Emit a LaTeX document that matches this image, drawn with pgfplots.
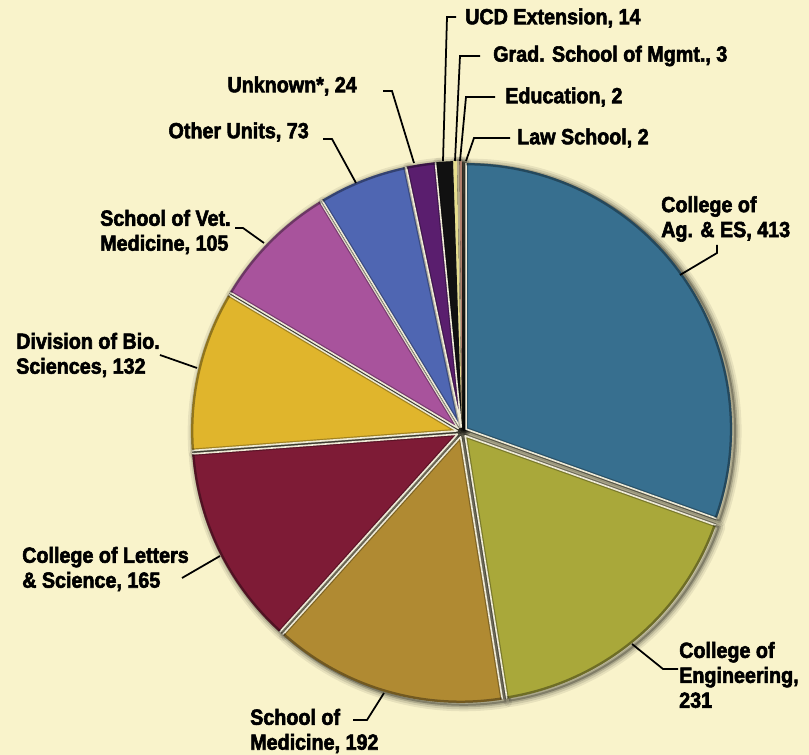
\documentclass[border=0pt]{standalone}
\usepackage{pgfplots}
\pgfplotsset{compat=1.18}
\usepackage{pgfplotstable}
\usepackage{fontspec}
\newfontfamily\lab[FakeStretch=0.9,FakeBold=2.6]{Liberation Sans Bold}
\definecolor{bg}{HTML}{F9F3CB}
\definecolor{gapc}{HTML}{EEEAD6}
\definecolor{slice0}{HTML}{376F8F}
\definecolor{slice1}{HTML}{A9A83A}
\definecolor{slice2}{HTML}{B08A32}
\definecolor{slice3}{HTML}{7E1B36}
\definecolor{slice4}{HTML}{E0B52C}
\definecolor{slice5}{HTML}{A8539C}
\definecolor{slice6}{HTML}{4F66B2}
\definecolor{slice7}{HTML}{5A1E6E}
\definecolor{slice8}{HTML}{111111}
\definecolor{slice9}{HTML}{E6DE8E}
\definecolor{slice10}{HTML}{B4AA8A}
\definecolor{slice11}{HTML}{B07E6C}

\pgfplotstableread{
unit value
Ag 413
Eng 231
Med 192
LS 165
Bio 132
Vet 105
Other 73
Unknown 24
UCD 14
Grad 3
Edu 2
Law 2
}\piedata

\newcommand\piepass[1]{%
  \gdef\cum{0}%
  \pgfplotstableforeachcolumnelement{value}\of\piedata\as\v{%
    \pgfmathsetmacro\fa{\cum/\total}%
    \pgfmathsetmacro\fb{(\cum+\v)/\total}%
    \pgfmathsetmacro\sa{90-360*\fa}%
    \pgfmathsetmacro\ea{90-360*\fb}%
    \pgfmathsetmacro\ma{(\sa+\ea)/2}%
    \pgfmathsetmacro\ox{462+5*cos(\ma)}%
    \pgfmathsetmacro\oy{323+5*sin(\ma)}%
    \pgfmathsetmacro\sx{\ox+3}%
    \pgfmathsetmacro\sy{\oy-2}%
    \pgfmathtruncatemacro\big{\v>20 ? 1 : 0}%
    \ifcase#1
      \foreach \w/\o in {13/0.07,9/0.1,5/0.16,2/0.25}{%
        \draw[line width=\w*0.03cm, black, opacity=\o, line join=round]
          (axis cs:\sx,\sy) -- ++(\sa:\R cm) arc[start angle=\sa,end angle=\ea,radius=\R cm] -- cycle;}%
    \or
      \fill[slice\pgfplotstablerow]
        (axis cs:\ox,\oy) -- ++(\sa:\R cm) arc[start angle=\sa,end angle=\ea,radius=\R cm] -- cycle;
    \or
      \ifnum\big=1
        \draw[black, opacity=0.28, line width=4*0.03cm, line join=round]
          (axis cs:\ox,\oy) ++(\sa:\R cm) -- (axis cs:\ox,\oy) -- ++(\ea:\R cm);
        \draw[gapc, line width=1.6*0.03cm, line join=round]
          (axis cs:\ox,\oy) ++(\sa:\R cm) -- (axis cs:\ox,\oy) -- ++(\ea:\R cm);
        \draw[black, opacity=0.35, line width=2.5*0.03cm]
          (axis cs:\ox,\oy) ++(\sa:\R cm-0.03cm) arc[start angle=\sa,end angle=\ea,radius=\R cm-0.03cm];
      \fi
    \fi
    \pgfmathsetmacro\c{\cum+\v}\xdef\cum{\c}%
  }%
}

\begin{document}
\begin{tikzpicture}[
  lbl/.style={font=\lab\fontsize{18.7}{21.3}\selectfont, inner sep=0pt, align=left, text=black},
  ld/.style={line width=1.5pt, black}]
\begin{axis}[x=0.03cm,y=0.03cm,xmin=0,xmax=809,ymin=0,ymax=755,
  hide axis,clip=false,scale only axis]
\fill[bg] (axis cs:0,0) rectangle (axis cs:809,755);
\pgfplotsextra{%
  \gdef\total{0}%
  \pgfplotstableforeachcolumnelement{value}\of\piedata\as\v{%
    \pgfmathsetmacro\t{\total+\v}\xdef\total{\t}}%
  \pgfmathsetmacro\R{266*0.03}%
  \piepass{0}%
  \piepass{1}%
  \piepass{2}%
}
% leaders
\draw[ld] (axis cs:456,738) -- (axis cs:447,738) -- (axis cs:443,594);
\draw[ld] (axis cs:480,699) -- (axis cs:460,699) -- (axis cs:455,594);
\draw[ld] (axis cs:495,658) -- (axis cs:466,658) -- (axis cs:460,594);
\draw[ld] (axis cs:510,617) -- (axis cs:474,617) -- (axis cs:466,594);
\draw[ld] (axis cs:383,664) -- (axis cs:392,664) -- (axis cs:414,592);
\draw[ld] (axis cs:323,616) -- (axis cs:332,616) -- (axis cs:356,572);
\draw[ld] (axis cs:235,527) -- (axis cs:243,527) -- (axis cs:264,512);
\draw[ld] (axis cs:160,400) -- (axis cs:197,387);
\draw[ld] (axis cs:182,177) -- (axis cs:220,199);
\draw[ld] (axis cs:353,35) -- (axis cs:367,35) -- (axis cs:384,62);
\draw[ld] (axis cs:678,86) -- (axis cs:663,86) -- (axis cs:632,111);
\draw[ld] (axis cs:717,510) -- (axis cs:717,502) -- (axis cs:680,480);
% labels
\node[lbl,anchor=west] at (axis cs:465,737) {UCD Extension, 14};
\node[lbl,anchor=west] at (axis cs:493,699) {Grad. School of Mgmt., 3};
\node[lbl,anchor=west] at (axis cs:505,658) {Education, 2};
\node[lbl,anchor=west] at (axis cs:517,617) {Law School, 2};
\node[lbl,anchor=east] at (axis cs:357,669) {Unknown*, 24};
\node[lbl,anchor=east] at (axis cs:309,623) {Other Units, 73};
\node[lbl,anchor=west] at (axis cs:100,523) {School of Vet.\\Medicine, 105};
\node[lbl,anchor=west] at (axis cs:16,400) {Division of Bio.\\Sciences, 132};
\node[lbl,anchor=west] at (axis cs:22,186) {College of Letters\\\& Science, 165};
\node[lbl,anchor=west] at (axis cs:250,24) {School of\\Medicine, 192};
\node[lbl,anchor=west] at (axis cs:679,80) {College of\\Engineering,\\231};
\node[lbl,anchor=west] at (axis cs:661,536) {College of\\Ag. \& ES, 413};
\end{axis}
\end{tikzpicture}
\end{document}
